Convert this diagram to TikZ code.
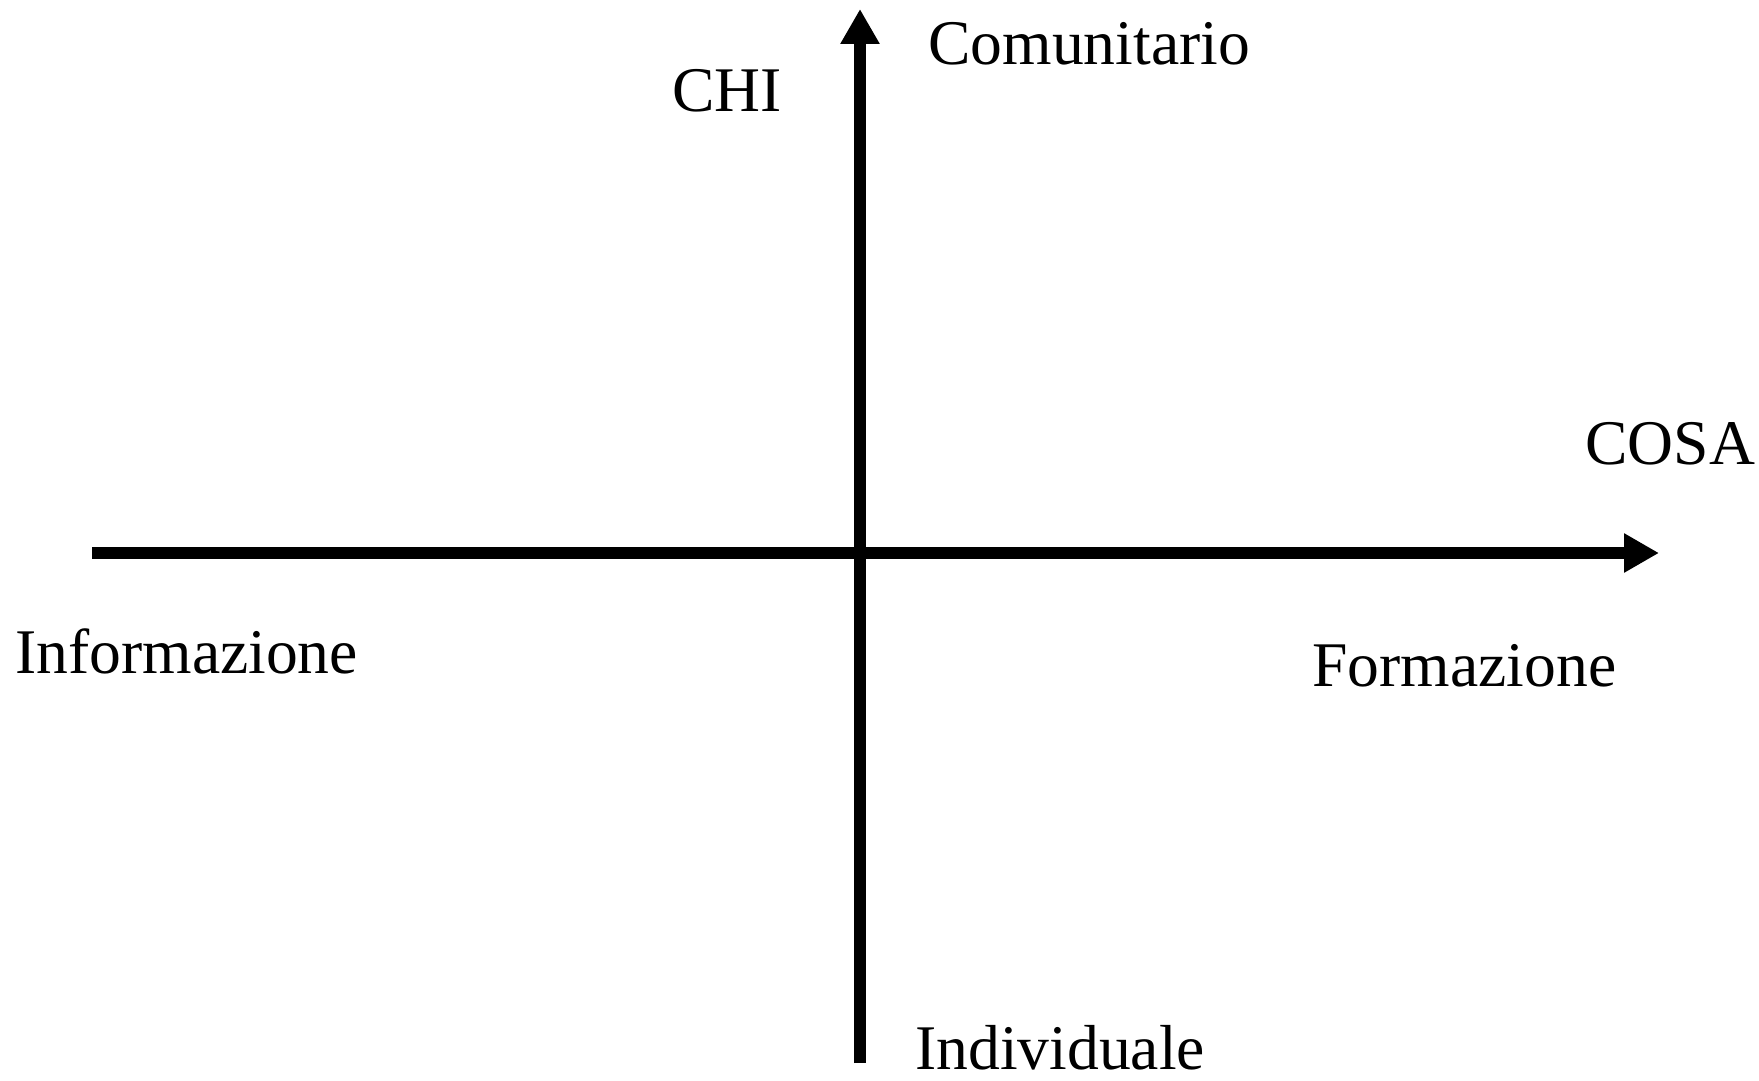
\documentclass[tikz,border=0pt]{standalone}
\usepackage{fontspec}
\setmainfont{Liberation Serif}
\usetikzlibrary{arrows.meta}
\tikzset{
  axis/.style={line width=6pt, -{Triangle[length=17.5pt,width=18.5pt]}},
  lbl/.style={anchor=base west, inner sep=0pt, font=\fontsize{31.8}{38}\selectfont}
}
\begin{document}
\begin{tikzpicture}[x=0.5pt,y=-0.5pt]
\useasboundingbox (0,0) rectangle (1759,1080);
\coordinate (W) at (92,553);
\coordinate (E) at (1659,553);
\coordinate (S) at (860,1063);
\coordinate (N) at (860,9);
\draw[axis] (W) -- (E);
\draw[axis] (S) -- (N);
\node[lbl] (com) at (928,65) {Comunitario};
\node[lbl] (chi) at (672,112) {CHI};
\node[lbl] (cosa) at (1585,464) {COSA};
\node[lbl] (inf) at (15,673) {Informazione};
\node[lbl] (for) at (1312,686) {Formazione};
\node[lbl] (ind) at (915,1069) {Individuale};
\end{tikzpicture}
\end{document}
